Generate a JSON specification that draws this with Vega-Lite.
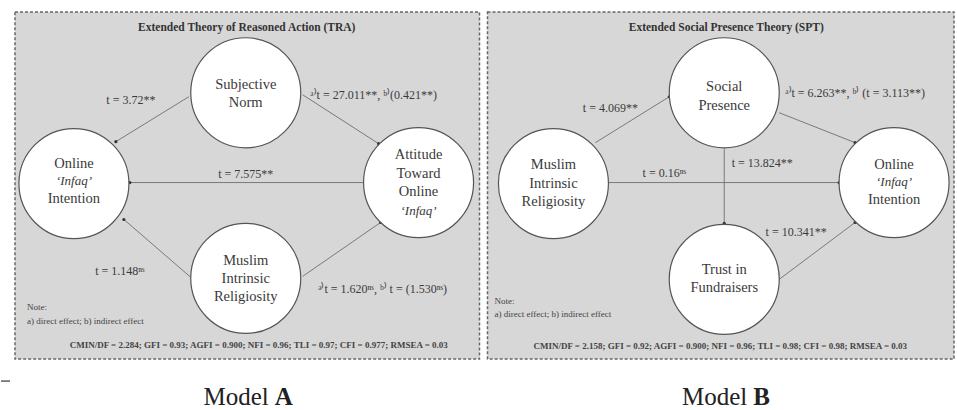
{
  "$schema": "https://vega.github.io/schema/vega-lite/v6.json",
  "width": 957,
  "height": 410,
  "autosize": {"type": "fit", "contains": "padding"},
  "padding": 0,
  "background": "white",
  "config": {"view": {"stroke": null}},
  "datasets": {
    "panels": [
      {"panel": "A", "x": 14, "x2": 479, "y": 12, "y2": 360},
      {"panel": "B", "x": 487, "x2": 954, "y": 12, "y2": 360}
    ],
    "edges": [
      {"panel": "A", "x": 188, "y": 97, "x2": 115, "y2": 142},
      {"panel": "A", "x": 302, "y": 95, "x2": 378, "y2": 144},
      {"panel": "A", "x": 363, "y": 183, "x2": 129, "y2": 183},
      {"panel": "A", "x": 190, "y": 278, "x2": 123, "y2": 220},
      {"panel": "A", "x": 302, "y": 277, "x2": 380, "y2": 223},
      {"panel": "B", "x": 595, "y": 143, "x2": 669, "y2": 97},
      {"panel": "B", "x": 779, "y": 113, "x2": 855, "y2": 143},
      {"panel": "B", "x": 724, "y": 149, "x2": 724, "y2": 224},
      {"panel": "B", "x": 607, "y": 183, "x2": 839, "y2": 183},
      {"panel": "B", "x": 779, "y": 280, "x2": 855, "y2": 223}
    ],
    "stray": [
      {"x": 0, "x2": 9, "y": 382}
    ],
    "nodes": [
      {"panel": "A", "node": "Subjective Norm", "x": 245, "y": 93},
      {"panel": "A", "node": "Online Infaq Intention", "x": 73, "y": 184},
      {"panel": "A", "node": "Attitude Toward Online Infaq", "x": 418, "y": 183},
      {"panel": "A", "node": "Muslim Intrinsic Religiosity", "x": 245, "y": 279},
      {"panel": "B", "node": "Social Presence", "x": 724, "y": 93},
      {"panel": "B", "node": "Muslim Intrinsic Religiosity", "x": 553, "y": 184},
      {"panel": "B", "node": "Online Infaq Intention", "x": 894, "y": 183},
      {"panel": "B", "node": "Trust in Fundraisers", "x": 724, "y": 280}
    ],
    "nodeLines": [
      {"text": "Subjective", "x": 245, "y": 85, "style": "roman"},
      {"text": "Norm", "x": 245, "y": 103, "style": "roman"},
      {"text": "Online", "x": 73, "y": 164, "style": "roman"},
      {"text": "‘Infaq’", "x": 73, "y": 181, "style": "italic"},
      {"text": "Intention", "x": 73, "y": 199, "style": "roman"},
      {"text": "Attitude", "x": 418, "y": 155, "style": "roman"},
      {"text": "Toward", "x": 418, "y": 174, "style": "roman"},
      {"text": "Online", "x": 418, "y": 192, "style": "roman"},
      {"text": "‘Infaq’", "x": 418, "y": 212, "style": "italic"},
      {"text": "Muslim", "x": 245, "y": 262, "style": "roman"},
      {"text": "Intrinsic", "x": 245, "y": 280, "style": "roman"},
      {"text": "Religiosity", "x": 245, "y": 298, "style": "roman"},
      {"text": "Social", "x": 724, "y": 87, "style": "roman"},
      {"text": "Presence", "x": 724, "y": 106, "style": "roman"},
      {"text": "Muslim", "x": 553, "y": 165, "style": "roman"},
      {"text": "Intrinsic", "x": 553, "y": 184, "style": "roman"},
      {"text": "Religiosity", "x": 553, "y": 202, "style": "roman"},
      {"text": "Online", "x": 894, "y": 165, "style": "roman"},
      {"text": "‘Infaq’", "x": 894, "y": 182, "style": "italic"},
      {"text": "Intention", "x": 894, "y": 200, "style": "roman"},
      {"text": "Trust in", "x": 724, "y": 271, "style": "roman"},
      {"text": "Fundraisers", "x": 724, "y": 289, "style": "roman"}
    ],
    "pathLabels": [
      {"text": "t = 3.72**", "x": 130, "y": 100},
      {"text": "ᵃ⁾t = 27.011**, ᵇ⁾(0.421**)", "x": 373, "y": 95},
      {"text": "t = 7.575**", "x": 245, "y": 174},
      {"text": "t = 1.148ⁿˢ", "x": 119, "y": 272},
      {"text": "ᵃ⁾t = 1.620ⁿˢ, ᵇ⁾ t = (1.530ⁿˢ)", "x": 382, "y": 290},
      {"text": "t = 4.069**", "x": 610, "y": 108},
      {"text": "ᵃ⁾t = 6.263**, ᵇ⁾ (t = 3.113**)", "x": 855, "y": 93},
      {"text": "t = 13.824**", "x": 762, "y": 163},
      {"text": "t = 0.16ⁿˢ", "x": 664, "y": 173},
      {"text": "t = 10.341**", "x": 796, "y": 233}
    ],
    "titles": [
      {"text": "Extended Theory of Reasoned Action (TRA)", "x": 246, "y": 28},
      {"text": "Extended Social Presence Theory (SPT)", "x": 726, "y": 28}
    ],
    "notes": [
      {"text": "Note:", "x": 26, "y": 308},
      {"text": "a) direct effect; b) indirect effect", "x": 26, "y": 322},
      {"text": "Note:", "x": 494, "y": 302},
      {"text": "a) direct effect; b) indirect effect", "x": 494, "y": 315}
    ],
    "fits": [
      {"text": "CMIN/DF = 2.284; GFI = 0.93; AGFI = 0.900; NFI = 0.96; TLI = 0.97; CFI = 0.977; RMSEA = 0.03", "x": 258, "y": 346},
      {"text": "CMIN/DF = 2.158; GFI = 0.92; AGFI = 0.900; NFI = 0.96; TLI = 0.98; CFI = 0.98; RMSEA = 0.03", "x": 720, "y": 347}
    ],
    "models": [
      {"word": "Model", "letter": "A", "x": 268, "y": 398},
      {"word": "Model", "letter": "B", "x": 747, "y": 398}
    ]
  },
  "encoding": {
    "x": {"type": "quantitative", "scale": {"domain": [0, 957], "nice": false, "zero": false}, "axis": null},
    "y": {"type": "quantitative", "scale": {"domain": [0, 410], "nice": false, "zero": false, "reverse": true}, "axis": null}
  },
  "layer": [
    {
      "data": {"name": "panels"},
      "mark": {"type": "rect", "fill": "#d7d7d7", "stroke": "#666666", "strokeWidth": 1.5, "strokeDash": [3, 2]},
      "encoding": {"x": {"field": "x", "type": "quantitative"}, "x2": {"field": "x2"}, "y": {"field": "y", "type": "quantitative"}, "y2": {"field": "y2"}}
    },
    {
      "data": {"name": "edges"},
      "mark": {"type": "rule", "color": "#6e6e6e", "strokeWidth": 0.9},
      "encoding": {"x": {"field": "x", "type": "quantitative"}, "x2": {"field": "x2"}, "y": {"field": "y", "type": "quantitative"}, "y2": {"field": "y2"}}
    },
    {
      "data": {"name": "stray"},
      "mark": {"type": "rule", "color": "#333333", "strokeWidth": 1.2},
      "encoding": {"x": {"field": "x", "type": "quantitative"}, "x2": {"field": "x2"}, "y": {"field": "y", "type": "quantitative"}}
    },
    {
      "data": {"name": "edges"},
      "mark": {"type": "point", "shape": "circle", "filled": true, "color": "#333333", "size": 10, "opacity": 1},
      "encoding": {"x": {"field": "x2", "type": "quantitative"}, "y": {"field": "y2", "type": "quantitative"}}
    },
    {
      "data": {"name": "nodes"},
      "mark": {"type": "point", "shape": "circle", "filled": true, "fill": "white", "stroke": "#555555", "strokeWidth": 1.2, "size": 12100, "opacity": 1},
      "encoding": {"x": {"field": "x", "type": "quantitative"}, "y": {"field": "y", "type": "quantitative"}}
    },
    {
      "data": {"name": "nodeLines"},
      "transform": [{"filter": "datum.style === 'roman'"}],
      "mark": {"type": "text", "font": "Liberation Serif", "fontSize": 14.5, "color": "#3a3a3a", "align": "center", "baseline": "middle"},
      "encoding": {"x": {"field": "x", "type": "quantitative"}, "y": {"field": "y", "type": "quantitative"}, "text": {"field": "text"}}
    },
    {
      "data": {"name": "nodeLines"},
      "transform": [{"filter": "datum.style === 'italic'"}],
      "mark": {"type": "text", "font": "Liberation Serif", "fontSize": 13, "fontStyle": "italic", "color": "#3a3a3a", "align": "center", "baseline": "middle"},
      "encoding": {"x": {"field": "x", "type": "quantitative"}, "y": {"field": "y", "type": "quantitative"}, "text": {"field": "text"}}
    },
    {
      "data": {"name": "pathLabels"},
      "mark": {"type": "text", "font": "Liberation Serif", "fontSize": 12, "color": "#3a3a3a", "align": "center", "baseline": "middle"},
      "encoding": {"x": {"field": "x", "type": "quantitative"}, "y": {"field": "y", "type": "quantitative"}, "text": {"field": "text"}}
    },
    {
      "data": {"name": "titles"},
      "mark": {"type": "text", "font": "Liberation Serif", "fontSize": 11.5, "fontWeight": "bold", "color": "#333333", "align": "center", "baseline": "middle"},
      "encoding": {"x": {"field": "x", "type": "quantitative"}, "y": {"field": "y", "type": "quantitative"}, "text": {"field": "text"}}
    },
    {
      "data": {"name": "notes"},
      "mark": {"type": "text", "font": "Liberation Serif", "fontSize": 9, "color": "#444444", "align": "left", "baseline": "middle"},
      "encoding": {"x": {"field": "x", "type": "quantitative"}, "y": {"field": "y", "type": "quantitative"}, "text": {"field": "text"}}
    },
    {
      "data": {"name": "fits"},
      "mark": {"type": "text", "font": "Liberation Serif", "fontSize": 9, "fontWeight": "bold", "color": "#444444", "align": "center", "baseline": "middle"},
      "encoding": {"x": {"field": "x", "type": "quantitative"}, "y": {"field": "y", "type": "quantitative"}, "text": {"field": "text"}}
    },
    {
      "data": {"name": "models"},
      "mark": {"type": "text", "font": "Liberation Serif", "fontSize": 25, "color": "#222222", "align": "right", "baseline": "middle"},
      "encoding": {"x": {"field": "x", "type": "quantitative"}, "y": {"field": "y", "type": "quantitative"}, "text": {"field": "word"}}
    },
    {
      "data": {"name": "models"},
      "mark": {"type": "text", "font": "Liberation Serif", "fontSize": 25, "fontWeight": "bold", "color": "#222222", "align": "left", "baseline": "middle", "dx": 6},
      "encoding": {"x": {"field": "x", "type": "quantitative"}, "y": {"field": "y", "type": "quantitative"}, "text": {"field": "letter"}}
    }
  ]
}
